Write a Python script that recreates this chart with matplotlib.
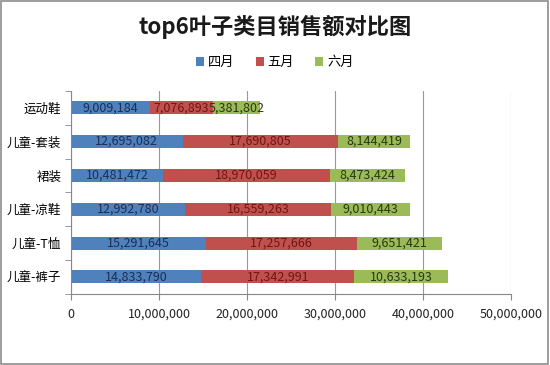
import matplotlib.pyplot as plt
from matplotlib.patches import Rectangle
from matplotlib.ticker import FuncFormatter, MultipleLocator

plt.rcParams['font.family'] = ['Noto Sans CJK SC', 'DejaVu Sans']

categories = ['运动鞋', '儿童-套装', '裙装', '儿童-凉鞋', '儿童-T恤', '儿童-裤子']
april = [9009184, 12695082, 10481472, 12992780, 15291645, 14833790]
may = [7076893, 17690805, 18970059, 16559263, 17257666, 17342991]
june = [5381802, 8144419, 8473424, 9010443, 9651421, 10633193]
series_names = ['四月', '五月', '六月']

colors = ['#4F81BD', '#C0504D', '#9BBB59']
text_colors = ['#1A2F55', '#6E1614', '#2A3610']

fig = plt.figure(figsize=(5.5, 3.65), dpi=100)
ax = fig.add_axes([0.129, 0.195, 0.8, 0.556])

y = list(range(len(categories)))
left = [0] * len(categories)
for vals, name, c, tc in zip([april, may, june], series_names, colors, text_colors):
    ax.barh(y, vals, left=left, height=0.38, color=c, label=name, zorder=2)
    for yi, l, v in zip(y, left, vals):
        ax.text(l + v / 2, yi, f'{v:,}', ha='center', va='center',
                fontsize=9, color=tc, zorder=3)
    left = [a + b for a, b in zip(left, vals)]

ax.set_ylim(5.5, -0.5)
ax.set_xlim(0, 50000000)
ax.xaxis.set_major_locator(MultipleLocator(10000000))
ax.xaxis.set_major_formatter(FuncFormatter(lambda v, p: f'{int(v):,}'))
ax.set_yticks(y)
ax.set_yticklabels(categories, fontsize=9)
ax.set_yticks([i + 0.5 for i in range(-1, 6)], minor=True)
ax.tick_params(axis='y', which='major', length=0, pad=7)
ax.tick_params(axis='y', which='minor', length=4, color='#888888')
ax.tick_params(axis='x', labelsize=9, length=4, color='#888888', pad=6,
               labelcolor='#222222')
ax.grid(axis='x', color='#999999', linewidth=0.8, zorder=0)
for s in ['top', 'right']:
    ax.spines[s].set_visible(False)
for s in ['left', 'bottom']:
    ax.spines[s].set_color('#888888')

fig.text(0.5, 0.925, 'top6叶子类目销售额对比图', ha='center', va='center',
         fontsize=16, fontweight='bold', color='#1a1a1a')
fig.legend(loc='center', bbox_to_anchor=(0.5, 0.828), ncol=3, frameon=False,
           fontsize=9.5, handlelength=0.6, handleheight=0.6, columnspacing=1.6,
           handletextpad=0.3)

fig.patches.append(Rectangle((0.002, 0.003), 0.995, 0.994, transform=fig.transFigure,
                             fill=False, edgecolor='#8c8c8c', linewidth=1.2))

fig.savefig('out.png', dpi=100)
